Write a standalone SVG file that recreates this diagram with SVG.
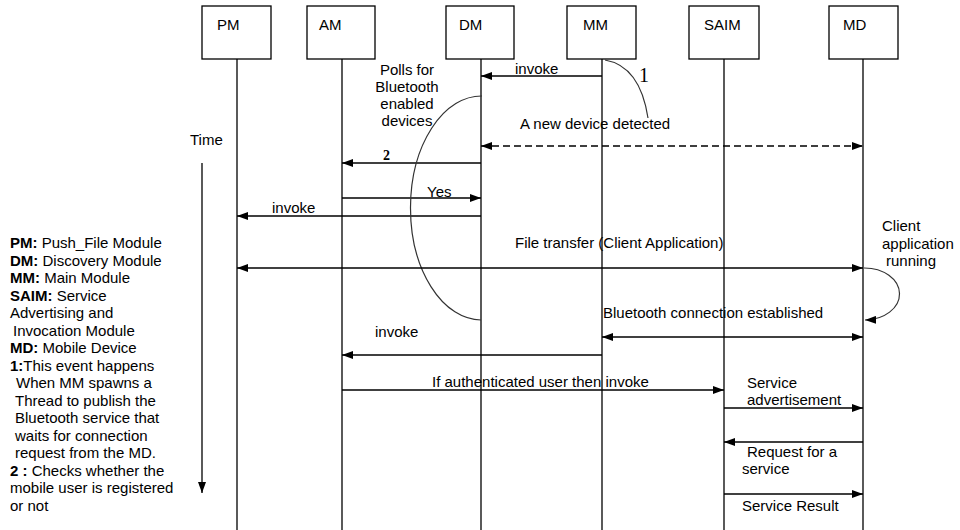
<svg xmlns="http://www.w3.org/2000/svg" width="960" height="530" viewBox="0 0 960 530">
<style>
text{font-family:"Liberation Sans",Arial,sans-serif;font-size:15px;fill:#000}
.b{font-weight:bold}
.box{fill:#fff;stroke:#000;stroke-width:1.3}
.life{stroke:#000;stroke-width:1.3}
.msg{stroke:#000;stroke-width:1.3;fill:none}
.dash{stroke-dasharray:7 4}
.curve{stroke:#333;stroke-width:1.2;fill:none}
.c{text-anchor:middle}
</style>
<defs>
<marker id="ah" markerUnits="userSpaceOnUse" viewBox="0 0 11 8" refX="11" refY="4" markerWidth="11" markerHeight="8" orient="auto-start-reverse">
<path d="M0,0 L11,4 L0,8 z" fill="#000"/>
</marker>
</defs>
<rect width="960" height="530" fill="#fff"/>

<g id="PM"><rect class="box" x="202" y="6" width="69" height="53"/><text x="217" y="30">PM</text><line class="life" x1="237" y1="59" x2="237" y2="530"/></g>
<g id="AM"><rect class="box" x="307" y="6" width="68" height="53"/><text x="319" y="30">AM</text><line class="life" x1="342" y1="59" x2="342" y2="530"/></g>
<g id="DM"><rect class="box" x="446" y="6" width="68" height="53"/><text x="459" y="30">DM</text><line class="life" x1="481" y1="59" x2="481" y2="530"/></g>
<g id="MM"><rect class="box" x="567" y="6" width="69" height="53"/><text x="583" y="30">MM</text><line class="life" x1="602" y1="59" x2="602" y2="530"/></g>
<g id="SAIM"><rect class="box" x="689" y="6" width="70" height="53"/><text x="704" y="30">SAIM</text><line class="life" x1="724" y1="59" x2="724" y2="530"/></g>
<g id="MD"><rect class="box" x="829" y="6" width="69" height="53"/><text x="843" y="30">MD</text><line class="life" x1="863" y1="59" x2="863" y2="530"/></g>

<g id="connectors">
<line class="msg" x1="602" y1="76" x2="481" y2="76" marker-end="url(#ah)"/>
<path class="curve" d="M605,60 Q640,66 648,118"/>
<line class="msg dash" x1="481" y1="146" x2="863" y2="146" marker-start="url(#ah)" marker-end="url(#ah)"/>
<line class="msg" x1="481" y1="163" x2="342" y2="163" marker-end="url(#ah)"/>
<line class="msg" x1="342" y1="198" x2="481" y2="198" marker-end="url(#ah)"/>
<line class="msg" x1="481" y1="216" x2="237" y2="216" marker-end="url(#ah)"/>
<path class="curve" d="M482,96 A71,112 0 0 0 481,320"/>
<line class="msg" x1="237" y1="268" x2="863" y2="268" marker-start="url(#ah)" marker-end="url(#ah)"/>
<path class="curve" d="M864,268 A35,26 0 0 1 865,320" marker-end="url(#ah)"/>
<line class="msg" x1="602" y1="337" x2="863" y2="337" marker-start="url(#ah)" marker-end="url(#ah)"/>
<line class="msg" x1="602" y1="355" x2="342" y2="355" marker-end="url(#ah)"/>
<line class="msg" x1="342" y1="390" x2="724" y2="390" marker-end="url(#ah)"/>
<line class="msg" x1="724" y1="408" x2="863" y2="408" marker-end="url(#ah)"/>
<line class="msg" x1="863" y1="442" x2="724" y2="442" marker-end="url(#ah)"/>
<line class="msg" x1="724" y1="494" x2="863" y2="494" marker-end="url(#ah)"/>
<line class="msg" x1="202" y1="163" x2="202" y2="493" marker-end="url(#ah)"/>
</g>

<g id="labels">
<text x="515" y="74">invoke</text>
<text class="c" x="407" y="75">Polls for</text>
<text class="c" x="407" y="92">Bluetooth</text>
<text class="c" x="407" y="109">enabled</text>
<text class="c" x="407" y="126">devices</text>
<text x="639" y="82" style="font-family:'Liberation Serif','Times New Roman',serif;font-size:20px">1</text>
<text x="520" y="129">A new device detected</text>
<text x="383" y="160" class="b" style="font-family:'Liberation Serif','Times New Roman',serif;font-size:14px">2</text>
<text x="427" y="197">Yes</text>
<text x="272" y="213">invoke</text>
<text x="190" y="145">Time</text>
<text x="515" y="248">File transfer (Client Application)</text>
<text x="882" y="231">Client</text>
<text x="882" y="248.5">application</text>
<text x="886" y="266">running</text>
<text x="603" y="318">Bluetooth connection established</text>
<text x="375" y="337">invoke</text>
<text x="432" y="387">If authenticated user then invoke</text>
<text x="747" y="388">Service</text>
<text x="747" y="405">advertisement</text>
<text x="747" y="457">Request for a</text>
<text x="742" y="474">service</text>
<text x="742" y="511">Service Result</text>
</g>

<g id="legend">
<text x="10" y="248"><tspan class="b">PM:</tspan> Push_File Module</text>
<text x="10" y="265.5"><tspan class="b">DM:</tspan> Discovery Module</text>
<text x="10" y="283"><tspan class="b">MM:</tspan> Main Module</text>
<text x="10" y="300.5"><tspan class="b">SAIM:</tspan> Service</text>
<text x="10" y="318">Advertising and</text>
<text x="13" y="335.5">Invocation Module</text>
<text x="10" y="353"><tspan class="b">MD:</tspan> Mobile Device</text>
<text x="10" y="370.5"><tspan class="b">1:</tspan>This event happens</text>
<text x="16" y="388">When MM spawns a</text>
<text x="15" y="405.5">Thread to publish the</text>
<text x="15" y="423">Bluetooth service that</text>
<text x="15" y="440.5">waits for connection</text>
<text x="15" y="458">request from the MD.</text>
<text x="10" y="475.5"><tspan class="b">2 :</tspan> Checks whether the</text>
<text x="10" y="493">mobile user is registered</text>
<text x="10" y="510.5">or not</text>
</g>
</svg>
